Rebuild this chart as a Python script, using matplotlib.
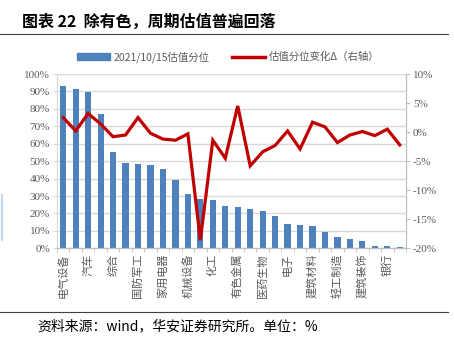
import matplotlib
matplotlib.use("Agg")
import matplotlib.pyplot as plt
from matplotlib.lines import Line2D
from matplotlib.patches import Patch
from matplotlib.ticker import FixedLocator
import numpy as np

plt.rcParams['font.family'] = ['Noto Sans CJK SC', 'DejaVu Sans']

categories = ['电气设备', '采掘', '汽车', '食品饮料', '综合', '交通运输', '国防军工', '通信',
              '家用电器', '计算机', '机械设备', '钢铁', '化工', '纺织服装', '有色金属', '公用事业',
              '医药生物', '商业贸易', '电子', '休闲服务', '建筑材料', '传媒', '轻工制造', '农林牧渔',
              '建筑装饰', '房地产', '银行', '非银金融']
percentile = [93.3, 91.2, 89.5, 76.9, 55.1, 48.8, 48.2, 47.8, 45.7, 39.2, 31.2, 28.3, 27.5, 24.3,
              23.5, 22.5, 21.2, 18.7, 14.1, 13.6, 13.0, 9.5, 6.7, 5.3, 4.4, 1.3, 1.3, 0.8]
change = [2.5, 0.2, 3.2, 1.4, -0.8, -0.5, 2.5, -0.2, -1.2, -1.4, -0.3, -18.6, -1.4, -4.5,
          4.5, -5.8, -3.4, -2.3, 0.2, -2.9, 1.7, 0.9, -1.8, -0.5, 0.1, -0.6, 0.5, -2.2]
left_ticks = [0, 10, 20, 30, 40, 50, 60, 70, 80, 90, 100]
right_ticks = [-20, -15, -10, -5, 0, 5, 10]

W, H = 454, 344
fig = plt.figure(figsize=(W / 100, H / 100), dpi=100)
ax = fig.add_axes([57 / W, 1 - 248.3 / H, (406 - 57) / W, (248.3 - 74) / H])
ax2 = ax.twinx()

x = np.arange(len(categories))
bar_color = '#4F81BD'
line_color = '#C00000'
tick_color = '#595959'
grid_color = '#D9D9D9'
serif = ['Liberation Serif', 'DejaVu Serif']

ax.bar(x, percentile, width=0.5, color=bar_color, zorder=2)
ax.set_ylim(0, 100)
ax.set_xlim(-0.5, len(categories) - 0.5)
ax.set_yticks(left_ticks)
ax.set_yticklabels([f'{v}%' for v in left_ticks], fontsize=8, color=tick_color, family=serif)
ax.yaxis.grid(True, color=grid_color, linewidth=1, zorder=0)
ax.set_axisbelow(True)
ax.tick_params(axis='y', length=3, color=grid_color, pad=2)

ax.set_xticks(x[::2])
ax.set_xticklabels(categories[::2], rotation=90, fontsize=8, color=tick_color, va='top', ha='center')
ax.tick_params(axis='x', length=0, pad=4)
ax.xaxis.set_minor_locator(FixedLocator(np.arange(-0.5, len(categories), 1.0)))
ax.tick_params(axis='x', which='minor', length=3, color='#BFBFBF')

ax2.plot(x, change, color=line_color, linewidth=2.3, solid_joinstyle='miter', zorder=3)
ax2.set_ylim(-20, 10)
ax2.set_yticks(right_ticks)
ax2.set_yticklabels([f'{v}%' for v in right_ticks], fontsize=8, color=tick_color, family=serif)
ax2.tick_params(axis='y', length=3, color='#BFBFBF', pad=2)

for a in (ax, ax2):
    a.spines['top'].set_visible(False)
    a.spines['left'].set_color(grid_color)
    a.spines['right'].set_color('#BFBFBF')
    a.spines['bottom'].set_color('#BFBFBF')
    a.patch.set_visible(False)
ax.set_zorder(1)
ax2.set_zorder(2)

handles = [Patch(color=bar_color), Line2D([0], [0], color=line_color, linewidth=2.5)]
labels = ['2021/10/15估值分位', '估值分位变化Δ（右轴）']
fig.legend(handles, labels, loc='center', bbox_to_anchor=(228 / W, 1 - 57 / H), ncol=2,
           frameon=False, fontsize=7.5, handlelength=3.2, handleheight=0.6, columnspacing=2.2,
           handletextpad=0.3, labelcolor=tick_color)

fig.text(22 / W, 1 - 22 / H, '图表 22  除有色，周期估值普遍回落', fontsize=11.5, fontweight='bold',
         va='center', ha='left', color='#000000')
fig.add_artist(Line2D([0, 448 / W], [1 - 34 / H, 1 - 34 / H], color='#404040', linewidth=0.8))
fig.add_artist(Line2D([0, 448 / W], [1 - 312 / H, 1 - 312 / H], color='#404040', linewidth=0.8))
fig.add_artist(Line2D([1.5 / W, 1.5 / W], [1 - 195 / H, 1 - 240 / H], color='#BDD7EE', linewidth=1.5))
fig.text(37 / W, 1 - 326 / H, '资料来源：wind，华安证券研究所。单位：%', fontsize=10,
         va='center', ha='left', color='#000000')

fig.savefig('out.png', dpi=100)
